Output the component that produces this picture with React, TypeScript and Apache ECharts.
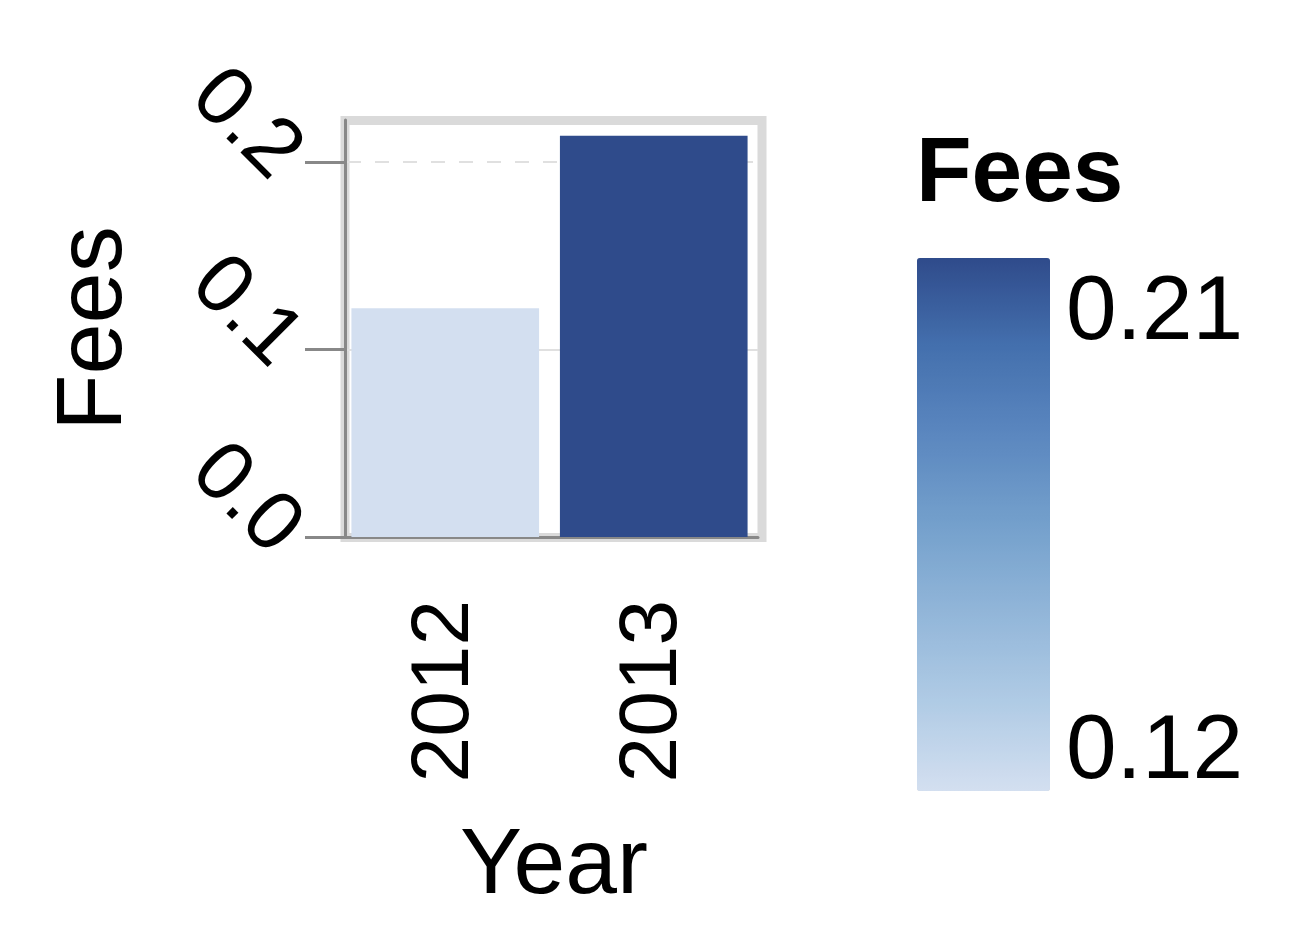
import React, { useEffect, useRef } from "react";
import * as echarts from "echarts";

const years = ["2012", "2013"];
const fees = [0.122, 0.214];
const yTicks = [0, 0.1, 0.2];
const rampColors = ["#d3dff0", "#b0cbe5", "#92b6d9", "#74a0cc", "#5b87bf", "#4470ae", "#2f4b8b"];

const FONT = "'Liberation Sans', Arial, sans-serif";

export default function App() {
  const ref = useRef<HTMLDivElement>(null);
  useEffect(() => {
    const chart = echarts.init(ref.current!, null, { renderer: "svg" });
    const vmin = Math.min(...fees);
    const vmax = Math.max(...fees);
    const gridLines = yTicks.slice(1).map((v, i) => [
      { yAxis: v, x: 347, lineStyle: { color: "#e0e0e0", width: 2, type: i === 0 ? "solid" : [14, 14] } },
      { yAxis: v, x: 758 },
    ]);
    chart.setOption({
      animation: false,
      textStyle: { fontFamily: FONT },
      grid: { left: 341, top: 120, width: 417, height: 417, show: false },
      xAxis: {
        type: "category",
        data: years,
        name: "Year",
        nameLocation: "middle",
        nameGap: 277,
        nameTextStyle: { fontSize: 93, color: "#000", fontFamily: FONT, padding: [0, 0, 0, 9] },
        axisLine: { lineStyle: { color: "#888", width: 3 } },
        axisTick: { alignWithLabel: true, length: 40, lineStyle: { color: "#888", width: 3 } },
        axisLabel: {
          rotate: 90,
          margin: 63,
          formatter: (v: string) => `{t|${v}}`,
          rich: { t: { fontSize: 82, color: "#000", fontFamily: FONT, padding: [0, 0, 12, 0] } },
        },
      },
      yAxis: {
        type: "value",
        min: 0,
        max: 0.2224,
        interval: 0.1,
        offset: -4,
        name: "Fees",
        nameLocation: "middle",
        nameGap: 210,
        nameTextStyle: { fontSize: 92, color: "#000", fontFamily: FONT },
        axisLine: { show: true, lineStyle: { color: "#888", width: 3 } },
        axisTick: { show: true, length: 40, customValues: yTicks, lineStyle: { color: "#888", width: 3 } },
        axisLabel: { rotate: -45, fontSize: 84, color: "#000", margin: 54, customValues: yTicks, fontFamily: FONT, formatter: (v: number) => v.toFixed(1) },
        splitLine: { show: false },
      },
      visualMap: {
        type: "continuous",
        seriesIndex: 0,
        dimension: 1,
        min: vmin,
        max: vmax,
        orient: "vertical",
        left: 917,
        top: 258,
        itemWidth: 133,
        itemHeight: 533,
        padding: 0,
        calculable: false,
        hoverLink: false,
        text: null,
        showLabel: false,
        inRange: { color: rampColors },
      },
      graphic: [
        { type: "rect", z: -10, shape: { x: 345, y: 120.5, width: 417, height: 417 }, style: { fill: "#fff", stroke: "#dadada", lineWidth: 9 } },
        { type: "text", left: 916, top: 124, style: { text: "Fees", fill: "#000", font: `bold 91px ${FONT}` } },
        { type: "text", left: 1066, top: 262, style: { text: vmax.toFixed(2), fill: "#000", font: `91px ${FONT}` } },
        { type: "text", left: 1066, top: 701, style: { text: vmin.toFixed(2), fill: "#000", font: `91px ${FONT}` } },
      ],
      series: [
        {
          type: "bar",
          data: fees,
          barCategoryGap: "10%",
          z: 2,
          markLine: {
            silent: true,
            symbol: "none",
            z: 1,
            label: { show: false },
            data: gridLines,
          },
        },
      ],
    });
    return () => chart.dispose();
  }, []);
  return <div ref={ref} style={{ position: "absolute", left: 0, top: 0, width: 1300, height: 950 }} />;
}
